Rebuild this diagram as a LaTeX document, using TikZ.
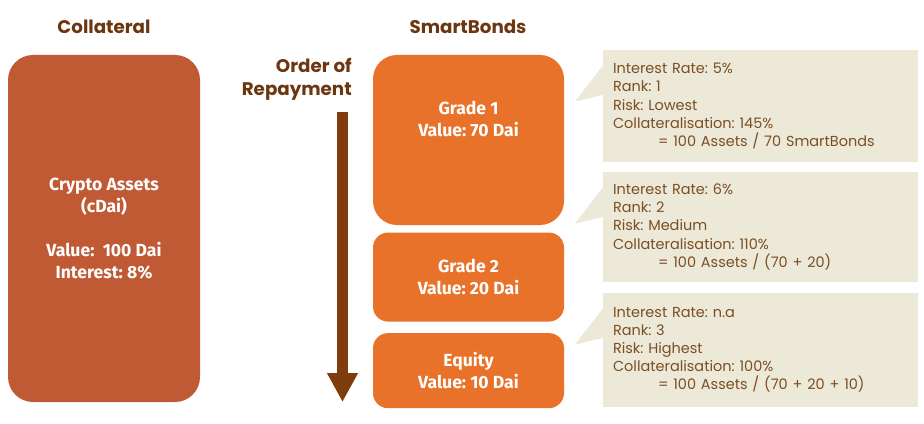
\documentclass[tikz,border=0pt]{standalone}
\usepackage{fontspec}
\setmainfont{Poppins}
\newfontfamily\boxfont{Fira Sans}
\frenchspacing
\definecolor{collatred}{RGB}{192, 90, 52}
\definecolor{bondorange}{RGB}{232, 114, 42}
\definecolor{notebeige}{RGB}{236, 233, 216}
\definecolor{titlebrown}{RGB}{107, 54, 16}
\definecolor{notebrown}{RGB}{125, 78, 36}
\definecolor{arrowbrown}{RGB}{127, 60, 12}
\usetikzlibrary{arrows.meta, positioning, calc}
\tikzset{
	heading/.style={font=\fontsize{13}{16.4}\selectfont\bfseries, text=titlebrown, align=right},
	asset/.style={rectangle, rounded corners=0.625cm, fill=collatred, text=white, align=center, minimum width=4.8cm, minimum height=8.675cm, font=\boxfont\bfseries\fontsize{12.5}{15.6}\selectfont},
	bond/.style={rectangle, rounded corners=0.375cm, fill=bondorange, text=white, align=center, minimum width=4.775cm, font=\boxfont\bfseries\fontsize{12.5}{15.6}\selectfont},
	note/.style={rectangle, fill=notebeige, text=notebrown, align=left, text width=7.375cm, inner sep=0.25cm, font=\fontsize{10.3}{12.9}\selectfont},
	pointer/.style={fill=notebeige},
	repay/.style={-{Triangle[length=0.725cm, width=0.725cm]}, line width=0.275cm, draw=arrowbrown},
}

\begin{document}
\begin{tikzpicture}
		\useasboundingbox (0,0) rectangle (23.1,-10.6);
		% collateral side
		\node[heading] (coltitle) at (2.6,-0.675) {Collateral};
		\node[asset] (crypto) at (2.6,-5.7125) {Crypto Assets\\(cDai)\\[15.6pt]Value:~ 100 Dai\\Interest: 8\%};
		% smartbonds
		\node[heading] (bondtitle) at (11.7,-0.675) {SmartBonds};
		\node[bond, rounded corners=0.6cm, minimum height=4.25cm] (grade1) at (11.7125,-3.5) {};
		\node[font=\boxfont\bfseries\fontsize{12.5}{15.6}\selectfont, text=white, align=center] (grade1txt) at (11.7125,-2.975) {Grade 1\\Value: 70 Dai};
		\node[bond, minimum height=2.225cm, below=0.175cm of grade1] (grade2) {Grade 2\\Value: 20 Dai};
		\node[bond, minimum height=1.875cm, below=0.275cm of grade2] (equity) {Equity\\Value: 10 Dai};
		% order of repayment
		\node[heading, anchor=east, inner sep=0pt] (order) at (8.8,-1.98) {Order of\\Repayment};
		\coordinate (repaytop) at (8.5625,-2.8);
		\coordinate (repaybot) at (8.5625,-10.05);
		\draw[repay] (repaytop) -- (repaybot);
		% notes
		\node[note, minimum height=2.8cm] (note1) at (19.0125,-2.65) {Interest Rate: 5\%\\Rank: 1\\Risk: Lowest\\Collateralisation: 145\%\\\hspace*{1.125cm}= 100 Assets / 70 SmartBonds};
		\node[note, minimum height=2.75cm] (note2) at (19.0125,-5.675) {Interest Rate: 6\%\\Rank: 2\\Risk: Medium\\Collateralisation: 110\%\\\hspace*{1.125cm}= 100 Assets / (70 + 20)};
		\node[note, minimum height=2.85cm] (note3) at (19.0125,-8.75) {Interest Rate: n.a\\Rank: 3\\Risk: Highest\\Collateralisation: 100\%\\\hspace*{1.125cm}= 100 Assets / (70 + 20 + 10)};
		\foreach \n in {note1, note2, note3}
			\fill[pointer] ($(\n.north west)+(0.02,-0.375)$) -- ($(\n.north west)+(-0.7,-1.3)$) -- ($(\n.north west)+(0.02,-1.125)$) -- cycle;
	\end{tikzpicture}
\end{document}
